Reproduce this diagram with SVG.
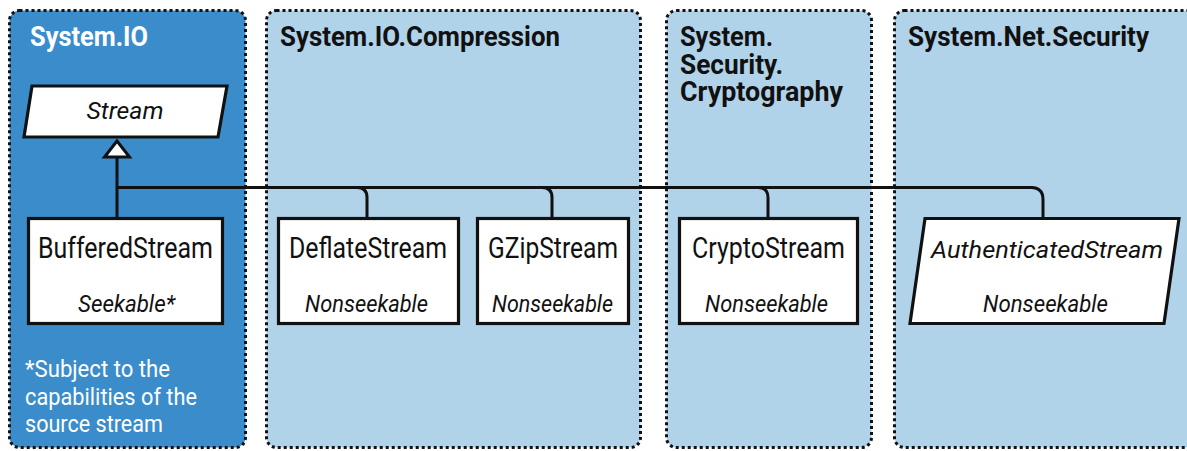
<svg xmlns="http://www.w3.org/2000/svg" width="1187" height="451" viewBox="0 0 1187 451">
<style>
.pkg{stroke:#111;stroke-width:3;stroke-dasharray:3 3;}
.dark{fill:#3b8ccb;}
.light{fill:#b1d3ea;}
.box{fill:#fff;stroke:#111;stroke-width:3.2;}
.title{font-family:Roboto,"Liberation Sans",sans-serif;font-weight:bold;font-size:28px;fill:#111;}
.wt{fill:#fff;}
.name{font-family:Roboto,"Liberation Sans",sans-serif;font-size:29px;fill:#111;}
.sub{font-family:Roboto,"Liberation Sans",sans-serif;font-style:italic;font-size:24px;fill:#111;}
.note{font-family:Roboto,"Liberation Sans",sans-serif;font-size:23.5px;fill:#fff;}
.conn{fill:none;stroke:#111;stroke-width:3;}
</style>
<rect width="1187" height="451" fill="#fff"/>
<g id="pkg-io">
<rect class="pkg dark" x="9.5" y="10.5" width="236" height="437" rx="10"/>
<text class="title wt" x="30" y="46" textLength="118" lengthAdjust="spacingAndGlyphs">System.IO</text>
<text class="note" x="25" y="377" textLength="145" lengthAdjust="spacingAndGlyphs">*Subject to the</text>
<text class="note" x="25" y="405" textLength="172" lengthAdjust="spacingAndGlyphs">capabilities of the</text>
<text class="note" x="25" y="432" textLength="138" lengthAdjust="spacingAndGlyphs">source stream</text>
</g>
<g id="pkg-compression">
<rect class="pkg light" x="266.5" y="10.5" width="374" height="437" rx="10"/>
<text class="title" x="280" y="46" textLength="280" lengthAdjust="spacingAndGlyphs">System.IO.Compression</text>
</g>
<g id="pkg-crypto">
<rect class="pkg light" x="666.5" y="10.5" width="205" height="437" rx="10"/>
<text class="title" x="680" y="46" font-size="26" textLength="93" lengthAdjust="spacingAndGlyphs">System.</text>
<text class="title" x="680" y="74" font-size="26" textLength="103" lengthAdjust="spacingAndGlyphs">Security.</text>
<text class="title" x="680" y="101" font-size="26" textLength="163" lengthAdjust="spacingAndGlyphs">Cryptography</text>
</g>
<g id="pkg-netsecurity">
<rect class="pkg light" x="894.5" y="10.5" width="320" height="437" rx="10"/>
<text class="title" x="908" y="46" textLength="241" lengthAdjust="spacingAndGlyphs">System.Net.Security</text>
</g>
<g id="connectors">
<path class="conn" d="M117,157 V218"/>
<path class="conn" d="M117,187.5 H1033"/>
<path class="conn" d="M357,187.5 Q367,187.5 367,197.5 V218"/>
<path class="conn" d="M542,187.5 Q552,187.5 552,197.5 V218"/>
<path class="conn" d="M758,187.5 Q768,187.5 768,197.5 V218"/>
<path class="conn" d="M1031,187.5 Q1043,187.5 1043,199.5 V218"/>
<polygon points="117,141 104.5,157 129.5,157" fill="#fff" stroke="#111" stroke-width="3" stroke-linejoin="miter"/>
</g>
<g id="node-stream">
<polygon class="box" points="32,86 227,86 218,137 24,137"/>
<text class="sub" x="125" y="119" text-anchor="middle" font-size="29" textLength="77" lengthAdjust="spacingAndGlyphs">Stream</text>
</g>
<g id="node-buffered">
<rect class="box" x="28.5" y="218.5" width="194" height="105"/>
<text class="name" x="38" y="258" textLength="175" lengthAdjust="spacingAndGlyphs">BufferedStream</text>
<text class="sub" x="78" y="312" textLength="97" lengthAdjust="spacingAndGlyphs">Seekable*</text>
</g>
<g id="node-deflate">
<rect class="box" x="278.5" y="218.5" width="180" height="105"/>
<text class="name" x="289" y="258" textLength="158" lengthAdjust="spacingAndGlyphs">DeflateStream</text>
<text class="sub" x="305" y="312" textLength="123" lengthAdjust="spacingAndGlyphs">Nonseekable</text>
</g>
<g id="node-gzip">
<rect class="box" x="477.5" y="218.5" width="151" height="105"/>
<text class="name" x="488" y="258" textLength="130" lengthAdjust="spacingAndGlyphs">GZipStream</text>
<text class="sub" x="492" y="312" textLength="121" lengthAdjust="spacingAndGlyphs">Nonseekable</text>
</g>
<g id="node-crypto">
<rect class="box" x="679.5" y="218.5" width="178" height="105"/>
<text class="name" x="692" y="258" textLength="153" lengthAdjust="spacingAndGlyphs">CryptoStream</text>
<text class="sub" x="705" y="312" textLength="123" lengthAdjust="spacingAndGlyphs">Nonseekable</text>
</g>
<g id="node-authenticated">
<polygon class="box" points="925,218.5 1179,218.5 1164,323.5 910,323.5"/>
<text class="sub" x="931" y="258" font-size="28.5" textLength="232" lengthAdjust="spacingAndGlyphs">AuthenticatedStream</text>
<text class="sub" x="983" y="312" font-size="25" textLength="125" lengthAdjust="spacingAndGlyphs">Nonseekable</text>
</g>
</svg>
